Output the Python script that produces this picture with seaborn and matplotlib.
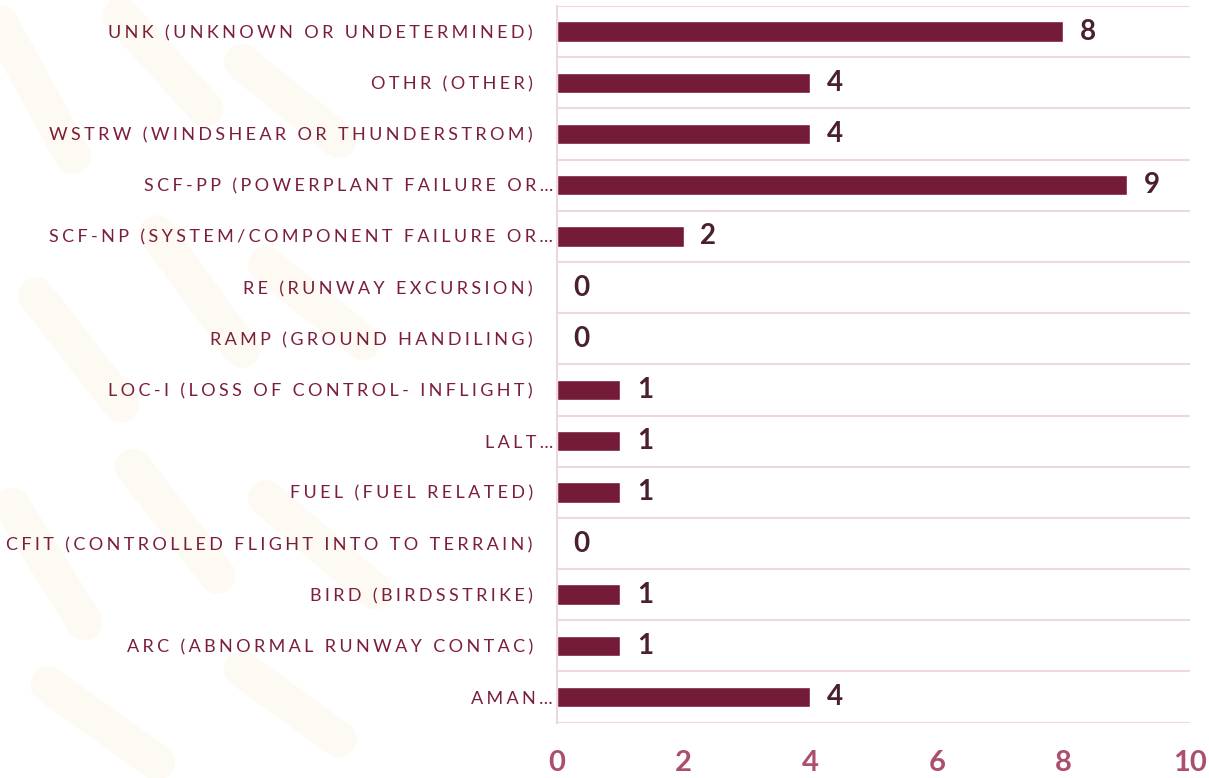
import matplotlib
matplotlib.use("Agg")
import matplotlib.pyplot as plt
import matplotlib.transforms as mtransforms
from matplotlib.lines import Line2D
import pandas as pd
import seaborn as sns

categorias = [
    "UNK (UNKNOWN OR UNDETERMINED)",
    "OTHR (OTHER)",
    "WSTRW (WINDSHEAR OR THUNDERSTROM)",
    "SCF-PP (POWERPLANT FAILURE OR…",
    "SCF-NP (SYSTEM/COMPONENT FAILURE OR…",
    "RE (RUNWAY EXCURSION)",
    "RAMP (GROUND HANDILING)",
    "LOC-I (LOSS OF CONTROL- INFLIGHT)",
    "LALT…",
    "FUEL (FUEL RELATED)",
    "CFIT (CONTROLLED FLIGHT INTO TO TERRAIN)",
    "BIRD (BIRDSSTRIKE)",
    "ARC (ABNORMAL RUNWAY CONTAC)",
    "AMAN…",
]
eventos = [8, 4, 4, 9, 2, 0, 0, 1, 1, 1, 0, 1, 1, 4]
x_ticks = [0, 2, 4, 6, 8, 10]

COR_BARRA = "#731B37"
COR_TEXTO = "#7A1E3C"
COR_VALOR = "#4A2030"
COR_EIXO = "#AB4F6E"
COR_GRADE = "#F0D6DF"
COR_FUNDO = "#FCFAF3"

df = pd.DataFrame({"categoria": categorias, "eventos": eventos})

sns.set_theme(style="white")
plt.rcParams["font.family"] = ["Lato", "DejaVu Sans"]

fig = plt.figure(figsize=(12.09, 7.78), dpi=100)

# marca d'água clara à esquerda (decorativa)
tracos = [
    ((0.00, 0.97), (0.06, 0.80)), ((0.10, 0.98), (0.17, 0.86)),
    ((0.20, 0.92), (0.28, 0.82)), ((0.03, 0.62), (0.10, 0.48)),
    ((0.13, 0.70), (0.20, 0.55)), ((0.22, 0.66), (0.30, 0.56)),
    ((0.01, 0.35), (0.07, 0.20)), ((0.11, 0.40), (0.18, 0.26)),
    ((0.22, 0.36), (0.31, 0.24)), ((0.04, 0.12), (0.13, 0.02)),
    ((0.20, 0.14), (0.28, 0.05)),
]
for (x0, y0), (x1, y1) in tracos:
    fig.add_artist(Line2D([x0, x1], [y0, y1], transform=fig.transFigure,
                          color=COR_FUNDO, linewidth=26,
                          solid_capstyle="round", zorder=0))

ax = fig.add_axes([0.4607, 0.0711, 0.5236, 0.9212])

sns.barplot(data=df, x="eventos", y="categoria", orient="h",
            color=COR_BARRA, width=0.4, saturation=1, ax=ax)

ax.set_xlim(0, 10)
ax.set_ylim(len(categorias) - 0.5, -0.5)
ax.set_xlabel("")
ax.set_ylabel("")

# grade horizontal entre categorias
ax.set_yticks([i + 0.5 for i in range(-1, len(categorias))], minor=True)
ax.grid(which="minor", axis="y", color=COR_GRADE, linewidth=1.5)
ax.tick_params(which="both", length=0)

for lado in ["top", "right", "bottom"]:
    ax.spines[lado].set_visible(False)
ax.spines["left"].set_color(COR_GRADE)
ax.spines["left"].set_linewidth(1.5)

# rótulos do eixo y com espaçamento entre letras
sp = "\u2009\u200a"
ax.set_yticks(range(len(categorias)))
ax.set_yticklabels([sp.join(c) for c in categorias], fontsize=13,
                   color=COR_TEXTO)
ax.tick_params(axis="y", pad=3)
for lbl, cat in zip(ax.get_yticklabels(), categorias):
    if not cat.endswith("…"):
        lbl.set_transform(lbl.get_transform() + mtransforms.ScaledTranslation(
            -20 / 100, 0, fig.dpi_scale_trans))

ax.set_xticks(x_ticks)
ax.set_xticklabels([str(t) for t in x_ticks], fontsize=21, fontweight="bold",
                   color=COR_EIXO)
ax.tick_params(axis="x", pad=20)

for container in ax.containers:
    ax.bar_label(container, fmt="%d", padding=12, fontsize=20,
                 fontweight="bold", color=COR_VALOR)

fig.savefig("out.png", dpi=100, facecolor="white")
